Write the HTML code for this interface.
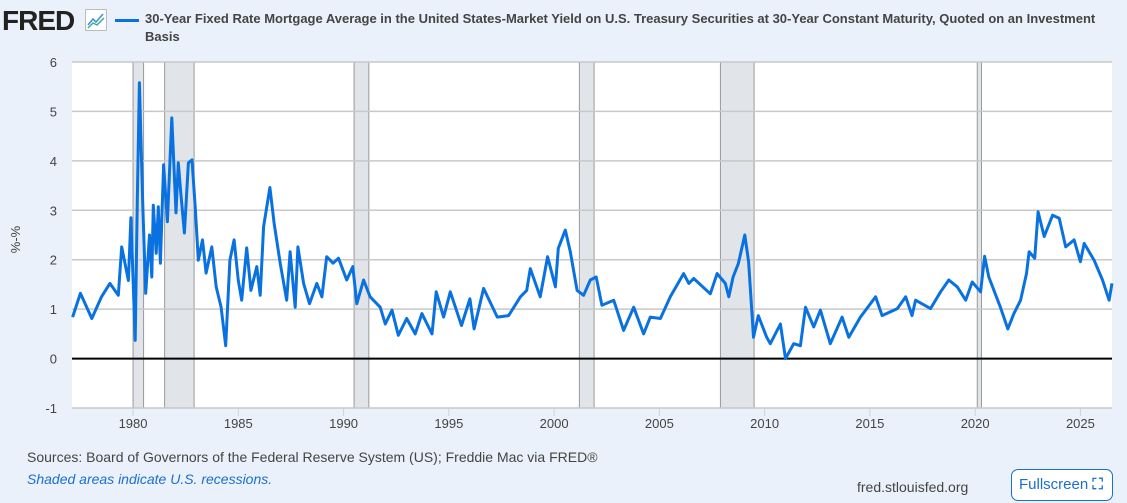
<!DOCTYPE html>
<html><head><meta charset="utf-8"><style>
body{margin:0;width:1127px;height:503px;background:#eaf1fa;font-family:"Liberation Sans",Arial,sans-serif;overflow:hidden;position:relative}
.t{position:absolute}
</style></head><body>
<div class="t" style="left:2px;top:5px;font-size:28px;font-weight:bold;color:#222;letter-spacing:-1px">FRED</div>
<svg class="t" style="left:85px;top:9px" width="22" height="22"><rect x="0.5" y="0.5" width="21" height="21" fill="#fff" stroke="#bbb"/><polyline points="3,16 8,10 11,13 18,5" fill="none" stroke="#3a8ee6" stroke-width="1.5"/><polyline points="3,19 8,14 12,16 19,9" fill="none" stroke="#3cb08a" stroke-width="1.5"/></svg>
<div class="t" style="left:115px;top:19px;width:24px;height:3px;background:#0a72e0"></div>
<div class="t" style="left:145px;top:10px;width:980px;font-size:13px;font-weight:bold;color:#444;line-height:18px">30-Year Fixed Rate Mortgage Average in the United States-Market Yield on U.S. Treasury Securities at 30-Year Constant Maturity, Quoted on an Investment Basis</div>
<div class="t" style="left:2px;top:232px;font-size:13px;color:#444;transform:rotate(-90deg)">%-%</div>
<svg class="t" id="chart" style="left:0;top:0" width="1127" height="430"></svg>
<div class="t" style="left:27px;top:449px;font-size:14px;color:#444">Sources: Board of Governors of the Federal Reserve System (US); Freddie Mac via FRED®</div>
<div class="t" style="left:27px;top:471px;font-size:14px;color:#1a6fd0;font-style:italic">Shaded areas indicate U.S. recessions.</div>
<div class="t" style="left:857px;top:479px;font-size:14px;color:#444">fred.stlouisfed.org</div>
<div class="t" style="left:1011px;top:469px;width:102px;height:32px;box-sizing:border-box;border:1px solid #1a6fd0;border-radius:7px;background:#fff;color:#1a6fd0;font-size:15px;line-height:30px;padding-left:7px">Fullscreen <span style="font-weight:bold">⛶</span></div>
<script>
const years=[1977.13,1977.5,1978.04,1978.5,1978.9,1979.3,1979.46,1979.78,1979.9,1980.1,1980.2,1980.3,1980.46,1980.6,1980.78,1980.89,1980.96,1981.1,1981.2,1981.3,1981.45,1981.63,1981.84,1982.04,1982.15,1982.27,1982.44,1982.63,1982.8,1982.95,1983.1,1983.3,1983.47,1983.74,1983.95,1984.18,1984.4,1984.6,1984.8,1985.0,1985.16,1985.4,1985.6,1985.88,1986.04,1986.2,1986.5,1986.7,1986.99,1987.3,1987.46,1987.7,1987.83,1988.1,1988.38,1988.73,1988.97,1989.2,1989.5,1989.76,1990.15,1990.44,1990.63,1990.95,1991.26,1991.74,1991.98,1992.3,1992.6,1993.0,1993.4,1993.72,1994.2,1994.4,1994.75,1995.07,1995.6,1996.0,1996.2,1996.65,1997.3,1997.84,1998.4,1998.7,1998.87,1999.34,1999.69,2000.06,2000.2,2000.53,2000.77,2001.09,2001.4,2001.72,2002.0,2002.27,2002.83,2003.3,2003.78,2004.25,2004.57,2005.05,2005.52,2006.15,2006.4,2006.63,2007.42,2007.74,2008.13,2008.3,2008.5,2008.75,2009.06,2009.24,2009.47,2009.7,2010.1,2010.27,2010.75,2010.99,2011.38,2011.7,2011.94,2012.33,2012.65,2013.12,2013.68,2014.0,2014.55,2015.27,2015.58,2016.3,2016.7,2017.0,2017.17,2017.88,2018.36,2018.75,2019.15,2019.55,2019.86,2020.26,2020.45,2020.65,2021.2,2021.55,2021.84,2022.16,2022.44,2022.56,2022.83,2022.99,2023.28,2023.68,2023.99,2024.3,2024.7,2025.0,2025.18,2025.65,2026.05,2026.36,2026.5];
const values=[0.84,1.32,0.81,1.25,1.52,1.28,2.26,1.58,2.85,0.37,3.2,5.58,3.15,1.32,2.5,1.65,3.1,2.13,3.07,1.93,3.92,2.77,4.87,2.95,3.96,3.35,2.54,3.96,4.02,3.07,1.99,2.4,1.73,2.26,1.45,1.04,0.26,1.99,2.4,1.58,1.18,2.24,1.38,1.86,1.28,2.67,3.46,2.74,1.93,1.18,2.16,1.04,2.26,1.52,1.11,1.52,1.25,2.06,1.93,2.03,1.59,1.86,1.11,1.59,1.25,1.04,0.7,0.98,0.47,0.81,0.5,0.91,0.5,1.35,0.84,1.35,0.67,1.21,0.6,1.42,0.84,0.87,1.25,1.38,1.82,1.25,2.06,1.45,2.23,2.6,2.16,1.38,1.28,1.59,1.65,1.08,1.18,0.57,1.04,0.5,0.84,0.81,1.25,1.72,1.52,1.62,1.31,1.72,1.52,1.25,1.65,1.92,2.5,1.96,0.43,0.87,0.43,0.3,0.7,0.0,0.3,0.26,1.04,0.64,0.98,0.3,0.84,0.43,0.84,1.25,0.87,1.01,1.25,0.87,1.18,1.01,1.35,1.59,1.45,1.18,1.55,1.35,2.07,1.65,1.04,0.6,0.91,1.18,1.72,2.16,2.03,2.97,2.47,2.9,2.84,2.26,2.4,1.96,2.33,1.99,1.59,1.18,1.52];
const recStart=[1980.0,1981.5,1990.5,2001.2,2007.9,2020.1];
const recEnd=[1980.5,1982.9,1991.2,2001.9,2009.5,2020.3];
const yTicks=[-1,0,1,2,3,4,5,6];
const xTicks=[1980,1985,1990,1995,2000,2005,2010,2015,2020,2025];
const L=72,R=1112,T=62,B=408;
const x0=1977.1,x1=2026.5,yMin=-1,yMax=6;
const sx=v=>L+(v-x0)/(x1-x0)*(R-L);
const sy=v=>B-(v-yMin)/(yMax-yMin)*(B-T);
const svg=document.getElementById('chart');
const NS='http://www.w3.org/2000/svg';
function mk(tag,attrs){const e=document.createElementNS(NS,tag);for(const k in attrs)e.setAttribute(k,attrs[k]);svg.appendChild(e);return e;}
const bg=mk('rect',{x:L,y:T,width:R-L,height:B-T,fill:'#fff'});


recStart.forEach((s,i)=>{
  const r=mk('rect',{x:sx(s),y:T,width:sx(recEnd[i])-sx(s),height:B-T,fill:'#e1e5ea',stroke:'#999','stroke-width':1});
  
  
});
yTicks.forEach(v=>{
  const g=mk('line',{x1:L,x2:R,y1:sy(v),y2:sy(v),stroke:v===0?'#000':'#c8c8c8','stroke-width':v===0?2:1.5});
  
  
  const t=mk('text',{x:57,y:sy(v)+5,'text-anchor':'end','font-size':13,fill:'#444','font-family':'Liberation Sans, sans-serif'});
  t.textContent=v;
  
  
});
xTicks.forEach(v=>{
  const tk=mk('line',{x1:sx(v),x2:sx(v),y1:B,y2:B+8,stroke:'#c8d4e2'});
  
  
  const t=mk('text',{x:sx(v),y:428,'text-anchor':'middle','font-size':13,fill:'#444','font-family':'Liberation Sans, sans-serif'});
  t.textContent=v;
  
  
});
const pts=years.map((y,i)=>sx(y).toFixed(1)+','+sy(values[i]).toFixed(1)).join(' ');
const line=mk('polyline',{points:pts,fill:'none',stroke:'#0a72e0','stroke-width':3,'stroke-linejoin':'round'});


</script>
</body></html>
